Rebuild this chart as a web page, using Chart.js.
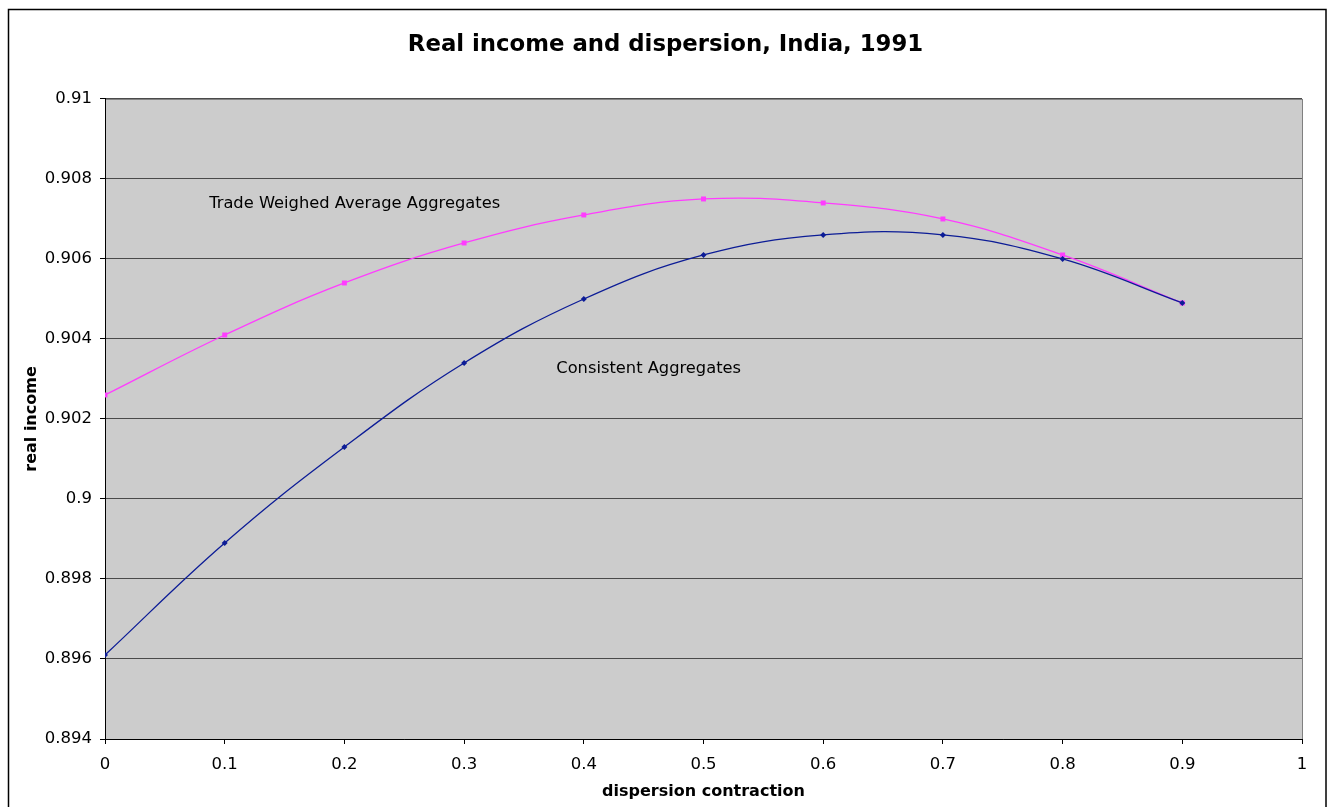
<!DOCTYPE html>
<html>
<head>
<meta charset="utf-8">
<script src="https://cdn.jsdelivr.net/npm/chart.js@4/dist/chart.umd.min.js"></script>
<style>
html,body{margin:0;padding:0;background:#fff;}
#wrap{position:absolute;left:0;top:0;width:1331px;height:807px;}
</style>
</head>
<body>
<div id="wrap"><canvas id="c" width="1331" height="807"></canvas></div>
<script>
const titleText = 'Real income and dispersion, India, 1991';
const xAxisTitle = 'dispersion contraction';
const yAxisTitle = 'real income';
const xValues = [0, 0.1, 0.2, 0.3, 0.4, 0.5, 0.6, 0.7, 0.8, 0.9];
const consistentAggregates = [0.8961, 0.8989, 0.9013, 0.9034, 0.9050, 0.9061, 0.9066, 0.9066, 0.9060, 0.9049];
const tradeWeighedAggregates = [0.9026, 0.9041, 0.9054, 0.9064, 0.9071, 0.9075, 0.9074, 0.9070, 0.9061, 0.9049];
const seriesNames = ['Consistent Aggregates', 'Trade Weighed Average Aggregates'];
const xTickValues = [0, 0.1, 0.2, 0.3, 0.4, 0.5, 0.6, 0.7, 0.8, 0.9, 1];
const xTickLabels = ['0', '0.1', '0.2', '0.3', '0.4', '0.5', '0.6', '0.7', '0.8', '0.9', '1'];
const yTickValues = [0.894, 0.896, 0.898, 0.9, 0.902, 0.904, 0.906, 0.908, 0.91];
const yTickLabels = ['0.894', '0.896', '0.898', '0.9', '0.902', '0.904', '0.906', '0.908', '0.91'];
// series labels placed in data coordinates
const labelTexts = ['Trade Weighed Average Aggregates', 'Consistent Aggregates'];
const labelX = [0.087, 0.377];
const labelY = [0.907375, 0.90325];

const FONT = "'DejaVu Sans', Verdana, sans-serif";

const bgPlugin = {
  id: 'bg',
  beforeDraw(chart) {
    const {ctx, chartArea: a} = chart;
    ctx.save();
    ctx.fillStyle = '#fff';
    ctx.fillRect(0, 0, chart.width, chart.height);
    ctx.strokeStyle = '#000';
    ctx.lineWidth = 1.5;
    ctx.strokeRect(8.5, 9.5, 1317.5, 830);
    ctx.fillStyle = '#cccccc';
    ctx.fillRect(a.left, a.top, a.right - a.left, a.bottom - a.top);
    ctx.strokeStyle = '#808080';
    ctx.lineWidth = 1;
    ctx.strokeRect(a.left + 0.5, a.top + 0.5, a.right - a.left, a.bottom - a.top);
    ctx.restore();
  },
  afterDatasetsDraw(chart) {
    const {ctx, scales} = chart;
    ctx.save();
    ctx.font = '16.3px ' + FONT;
    ctx.fillStyle = '#000';
    ctx.textBaseline = 'middle';
    ctx.textAlign = 'left';
    labelTexts.forEach((t, i) => {
      ctx.fillText(t, scales.x.getPixelForValue(labelX[i]), scales.y.getPixelForValue(labelY[i]));
    });
    ctx.restore();
  }
};

new Chart(document.getElementById('c'), {
  type: 'line',
  data: {
    datasets: [
      {
        label: seriesNames[0],
        data: xValues.map((x, i) => ({x: x, y: consistentAggregates[i]})),
        borderColor: '#0c1c96',
        backgroundColor: '#0c1c96',
        borderWidth: 1.3,
        pointStyle: 'rectRot',
        pointRadius: 3,
        pointBorderWidth: 0,
        tension: 0.4,
        fill: false
      },
      {
        label: seriesNames[1],
        data: xValues.map((x, i) => ({x: x, y: tradeWeighedAggregates[i]})),
        borderColor: '#ff3cff',
        backgroundColor: '#ff3cff',
        borderWidth: 1.3,
        pointStyle: 'rect',
        pointRadius: 3.5,
        pointBorderWidth: 0,
        tension: 0.4,
        fill: false
      }
    ]
  },
  options: {
    responsive: false,
    animation: false,
    devicePixelRatio: 1,
    layout: {padding: {left: 0, right: 0, top: 0, bottom: 0}},
    plugins: {
      legend: {display: false},
      tooltip: {enabled: false},
      title: {
        display: true,
        text: titleText,
        color: '#000',
        font: {family: FONT, size: 22.8, weight: 'bold', lineHeight: 1.2},
        padding: {top: 31.3, bottom: 40.3}
      }
    },
    scales: {
      x: {
        type: 'linear',
        min: 0,
        max: 1,
        afterBuildTicks(scale) { scale.ticks = xTickValues.map(v => ({value: v})); },
        afterFit(scale) { scale.height = 68; },
        ticks: {
          color: '#000',
          font: {family: FONT, size: 16.5},
          padding: 11,
          maxRotation: 0,
          autoSkip: false,
          callback: (v, i) => xTickLabels[i]
        },
        grid: {drawOnChartArea: false, tickLength: 5, tickColor: '#000', color: '#000'},
        border: {color: '#000', width: 1},
        title: {
          display: true,
          text: xAxisTitle,
          color: '#000',
          font: {family: FONT, size: 16, weight: 'bold', lineHeight: 1.2},
          padding: {top: 0, bottom: 5.4}
        }
      },
      y: {
        type: 'linear',
        min: 0.894,
        max: 0.91,
        afterBuildTicks(scale) { scale.ticks = yTickValues.map(v => ({value: v})); },
        afterFit(scale) { scale.width = 105; },
        ticks: {
          color: '#000',
          font: {family: FONT, size: 16.5},
          padding: 8,
          autoSkip: false,
          callback: (v, i) => yTickLabels[i]
        },
        grid: {color: '#4a4a4a', tickLength: 5, tickColor: '#000', lineWidth: 1},
        border: {color: '#000', width: 1},
        title: {
          display: true,
          text: yAxisTitle,
          color: '#000',
          font: {family: FONT, size: 16, weight: 'bold', lineHeight: 1.2},
          padding: {top: 22.4, bottom: 0}
        }
      },
      yRightSpace: {
        type: 'linear',
        position: 'right',
        min: 0,
        max: 1,
        afterFit(scale) { scale.width = 29; },
        ticks: {display: false},
        grid: {display: false, drawTicks: false},
        border: {display: false}
      }
    }
  },
  plugins: [bgPlugin]
});
</script>
</body>
</html>
